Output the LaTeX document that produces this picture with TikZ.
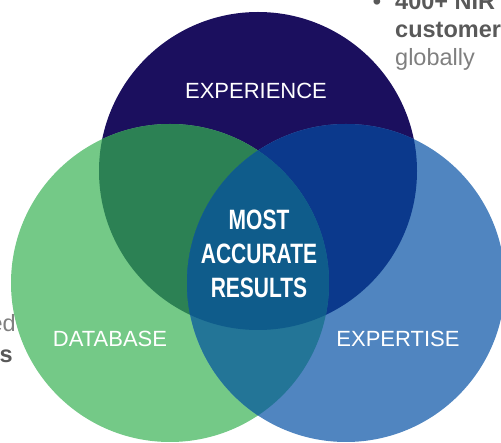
\documentclass[tikz,border=0pt]{standalone}
\usepackage{fontspec}
\usepackage{xcolor}
\setmainfont{Liberation Sans}
\definecolor{navycircle}{HTML}{1B0F5E}
\definecolor{greencircle}{HTML}{74C987}
\definecolor{bluecircle}{HTML}{5085C0}
\definecolor{navygreen}{HTML}{2C8154}
\definecolor{navyblue}{HTML}{0B398C}
\definecolor{greenblue}{HTML}{237597}
\definecolor{allthree}{HTML}{0F5C8B}
\definecolor{boldgray}{HTML}{595959}
\definecolor{lightgray}{HTML}{7F7F7F}
\tikzset{
  venn/.style={circle,minimum size=318pt,inner sep=0pt},
  label/.style={text=white,inner sep=0pt,anchor=base,font=\fontsize{22}{26}\selectfont},
  side/.style={inner sep=0pt,font=\fontsize{23.5}{28}\selectfont}
}

\begin{document}
\begin{tikzpicture}[x=1pt,y=-1pt]
		\clip (0,0) rectangle (501,443);

		\node[venn,fill=navycircle] (exp) at (258,171) {};
		\node[venn,fill=greencircle] (db) at (170,283) {};
		\node[venn,fill=bluecircle] (ex) at (346,283) {};

		\begin{scope}
			\clip (exp.center) circle[radius=159pt];
			\fill[navygreen] (db.center) circle[radius=159pt];
			\fill[navyblue] (ex.center) circle[radius=159pt];
		\end{scope}
		\begin{scope}
			\clip (db.center) circle[radius=159pt];
			\fill[greenblue] (ex.center) circle[radius=159pt];
			\clip (exp.center) circle[radius=159pt];
			\fill[allthree] (ex.center) circle[radius=159pt];
		\end{scope}

		\node[label] (explabel) at (256,99) {EXPERIENCE};
		\node[label] (dblabel) at (110,347) {DATABASE};
		\node[label] (exlabel) at (398,347) {EXPERTISE};

		\node[text=white,inner sep=0pt,xscale=0.75,align=center,font=\fontsize{28}{34}\selectfont\bfseries] (result) at (259,254) {MOST\\ACCURATE\\RESULTS};

		\node[side,text=boldgray,anchor=base] (bullet) at (377,10) {\textbf{•}};
		\node[side,text=boldgray,anchor=base west] (nir) at (395,10) {\textbf{400+ NIR}};
		\node[side,text=boldgray,anchor=base west] (cust) at (395,38) {\textbf{customer}};
		\node[side,text=lightgray,anchor=base west] (glob) at (395,66) {globally};

		\node[side,text=lightgray,anchor=base east] (leftone) at (16,332) {ed};
		\node[side,text=boldgray,anchor=base east] (lefttwo) at (13,363) {\textbf{s}};
	\end{tikzpicture}
\end{document}
